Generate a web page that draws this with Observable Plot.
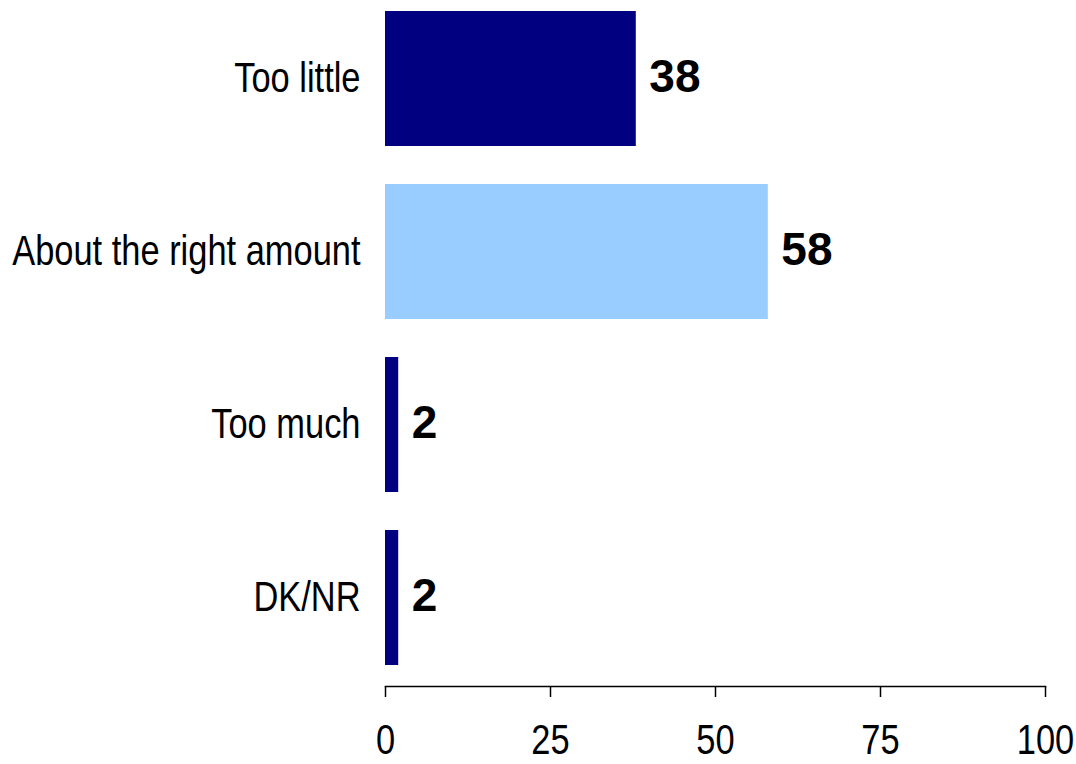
<!DOCTYPE html>
<html>
<head>
<meta charset="utf-8">
<script src="https://cdn.jsdelivr.net/npm/d3@7"></script>
<script src="https://cdn.jsdelivr.net/npm/@observablehq/plot@0.6"></script>
<style>
  html, body { margin: 0; padding: 0; background: #fff; }
  svg { display: block; }
</style>
</head>
<body>
<div id="chart"></div>
<script>
const categories = ["Too little", "About the right amount", "Too much", "DK/NR"];
const values = [38, 58, 2, 2];
const barColors = ["#000080", "#99CCFF", "#000080", "#000080"];
const xTicks = [0, 25, 50, 75, 100];

const data = categories.map((c, i) => ({category: c, value: values[i], color: barColors[i]}));

const font = "'Liberation Sans', Arial, sans-serif";

const chart = Plot.plot({
  width: 1076,
  height: 764,
  marginLeft: 385,
  marginRight: 31,
  marginTop: 0,
  marginBottom: 78,
  style: {fontFamily: font, background: "#fff", color: "#000"},
  x: {domain: [0, 100], ticks: xTicks},
  y: {domain: categories, range: [10, 665], paddingInner: 0.222, paddingOuter: 0},
  marks: [
    Plot.barX(data, {x: "value", y: "category", fill: "color"}),
    Plot.text(data, {
      x: "value", y: "category", text: d => String(d.value),
      textAnchor: "start", dx: 13, dy: -2,
      fontSize: 46, fontWeight: "bold", fill: "#000"
    }),
    Plot.frame({anchor: "bottom", stroke: "#000", strokeWidth: 1.5}),
    Plot.axisX({ticks: xTicks, tickSize: 11, tickPadding: 27, fontSize: 42, label: null, stroke: "#000", strokeWidth: 1.5}),
    Plot.axisY({tickSize: 0, tickPadding: 25, fontSize: 42, label: null})
  ]
});
// condense axis label glyphs horizontally (narrow face is not installed)
d3.select(chart)
  .selectAll('g[aria-label="y-axis tick label"] text, g[aria-label="x-axis tick label"] text')
  .each(function() {
    const t = this.getAttribute("transform") || "";
    this.setAttribute("transform", t + " scale(0.82,1)");
  });
document.getElementById("chart").appendChild(chart);
</script>
</body>
</html>
